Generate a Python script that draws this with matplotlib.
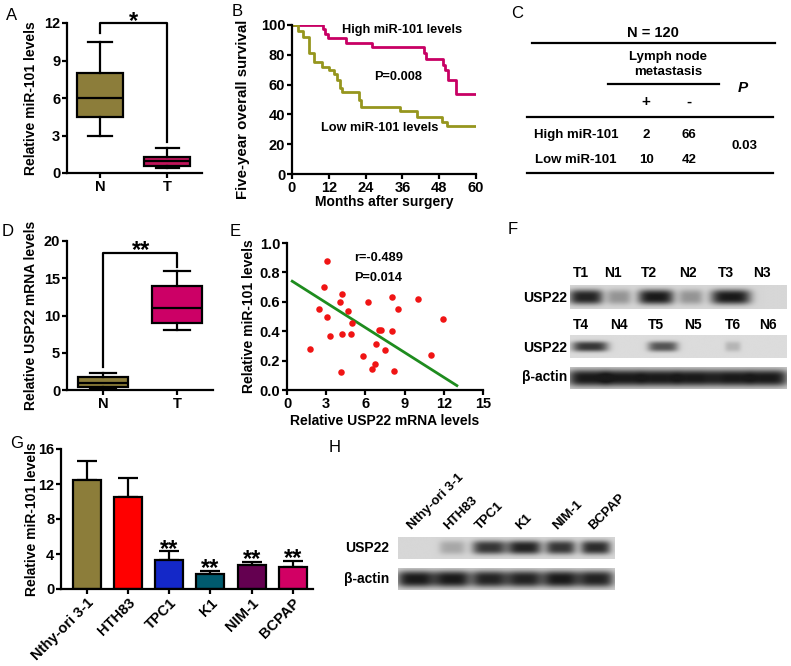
import numpy as np
import matplotlib
matplotlib.use("Agg")
import matplotlib.pyplot as plt
from matplotlib.lines import Line2D

plt.rcParams['font.family'] = ['Liberation Sans', 'DejaVu Sans']

# ---------------- data ----------------
# Panel A (box stats: whislo, q1, med, q3, whishi)
a_groups = ['N', 'T']
a_whislo = [3.0, 0.4]
a_q1 = [4.5, 0.6]
a_med = [6.0, 1.0]
a_q3 = [8.0, 1.3]
a_whishi = [10.5, 2.0]

# Panel B Kaplan-Meier steps
b_high_t = [0, 10.0, 10.8, 11.6, 17.5, 26.0, 43.0, 43.8, 49.3, 49.9, 50.9, 53.5, 60]
b_high_s = [100, 97.5, 94, 91, 88, 85.5, 81, 77, 73, 70, 63, 54, 54]
b_low_t = [0, 1.8, 3.6, 5.5, 7.3, 9.7, 12.0, 13.8, 14.6, 15.5, 16.3, 21.8, 22.4, 35.3, 40.7, 48.8, 50.4, 60]
b_low_s = [100, 96, 92, 81, 75, 72, 70, 67, 63, 58, 55, 50, 45, 42, 38, 35, 32, 32]

# Panel C table
c_rows = ['High miR-101', 'Low miR-101']
c_pos = [2, 10]
c_neg = [66, 42]
c_p = '0.03'

# Panel D
d_groups = ['N', 'T']
d_whislo = [0.15, 8.0]
d_q1 = [0.4, 9.0]
d_med = [1.0, 11.0]
d_q3 = [1.8, 14.0]
d_whishi = [2.3, 16.0]

# Panel E scatter
e_usp22 = [1.73, 2.42, 2.86, 3.06, 3.06, 3.32, 4.03, 4.23, 4.21, 4.13, 4.64, 5.0, 4.92,
           5.82, 6.22, 6.53, 6.73, 6.81, 7.02, 7.22, 7.53, 8.01, 8.01, 8.21, 8.52, 10.0, 11.0, 11.96]
e_mir = [0.28, 0.55, 0.70, 0.875, 0.50, 0.37, 0.60, 0.65, 0.38, 0.12, 0.54, 0.455, 0.38,
         0.23, 0.60, 0.14, 0.18, 0.31, 0.41, 0.41, 0.27, 0.63, 0.40, 0.13, 0.55, 0.62, 0.24, 0.48]
e_fit_x = [0.4, 13.0]
e_fit_y = [0.74, 0.03]

# Panel F blots
f_lanes1 = ['T1', 'N1', 'T2', 'N2', 'T3', 'N3']
f_int1 = [0.95, 0.35, 1.0, 0.35, 1.0, 0.0]
f_lanes2 = ['T4', 'N4', 'T5', 'N5', 'T6', 'N6']
f_int2 = [0.85, 0.0, 0.7, 0.0, 0.2, 0.0]
f_actin = [1.0, 1.0, 1.0, 1.0, 1.0, 1.0]

# Panel G bars
g_lines = ['Nthy-ori 3-1', 'HTH83', 'TPC1', 'K1', 'NIM-1', 'BCPAP']
g_vals = [12.5, 10.5, 3.3, 1.75, 2.8, 2.5]
g_err = [2.1, 2.2, 1.0, 0.35, 0.3, 0.7]
g_sig = ['', '', '**', '**', '**', '**']
g_colors = ['#8C7D3A', '#FF0000', '#1428C8', '#005A6E', '#640050', '#D20064']

# Panel H blot
h_usp22 = [0.0, 0.25, 0.85, 0.95, 0.85, 0.9]
h_actin = [1.0, 1.0, 0.95, 0.95, 1.0, 0.95]

# ---------------- layout helpers ----------------
W, H = 791, 666
fig = plt.figure(figsize=(W / 100, H / 100), dpi=100)


def rect(x0, y0, x1, y1):
    return [x0 / W, 1 - y1 / H, (x1 - x0) / W, (y1 - y0) / H]


def fx(x):
    return x / W


def fy(y):
    return 1 - y / H


def ftext(x, y, s, **kw):
    fig.text(fx(x), fy(y), s, **kw)


def fline(x0, x1, y, lw=1.6):
    fig.add_artist(Line2D([fx(x0), fx(x1)], [fy(y), fy(y)], color='black', lw=lw,
                          transform=fig.transFigure))


LAB = dict(fontsize=9.5, fontweight='bold')
AXLAB = dict(fontsize=10, fontweight='bold')
ANN = dict(fontsize=9.2, fontweight='bold')


def style(ax):
    for s in ['top', 'right']:
        ax.spines[s].set_visible(False)
    for s in ['left', 'bottom']:
        ax.spines[s].set_linewidth(1.6)
    ax.tick_params(width=1.6, length=3.4, pad=1.5, labelsize=10.5)
    for lab in ax.get_xticklabels() + ax.get_yticklabels():
        lab.set_fontweight('bold')


def panel_letter(x, y, s):
    ftext(x, y, s, fontsize=12, ha='center', va='center')


def boxes(ax, groups, whislo, q1, med, q3, whishi, colors, width):
    stats = []
    for i in range(len(groups)):
        stats.append(dict(whislo=whislo[i], q1=q1[i], med=med[i], q3=q3[i], whishi=whishi[i],
                          fliers=[], label=groups[i]))
    bp = ax.bxp(stats, positions=[1, 2], widths=width, patch_artist=True,
                boxprops=dict(linewidth=1.6), medianprops=dict(color='black', linewidth=1.6),
                whiskerprops=dict(linewidth=1.6), capprops=dict(linewidth=1.6), capwidths=width * 0.5)
    for p, c in zip(bp['boxes'], colors):
        p.set_facecolor(c)
        p.set_edgecolor('black')


# ---------------- Panel A ----------------
axA = fig.add_axes(rect(67, 23, 202, 173))
boxes(axA, a_groups, a_whislo, a_q1, a_med, a_q3, a_whishi, ['#8C7D3A', '#C0145A'], 0.69)
axA.set_xlim(0.507, 2.52)
axA.set_ylim(0, 12)
axA.set_yticks([0, 3, 6, 9, 12])
axA.set_xticks([1, 2])
axA.set_xticklabels(a_groups)
axA.set_ylabel('Relative miR-101 levels', **AXLAB)
axA.yaxis.set_label_coords(-0.215, 0.5)
style(axA)
axA.plot([1, 1, 2, 2], [11.2, 12, 12, 2.5], color='black', lw=1.6, clip_on=False)
axA.text(1.5, 11.6, '*', ha='center', va='baseline', fontsize=17, fontweight='bold')
panel_letter(12, 15, 'A')

# ---------------- Panel B ----------------
axB = fig.add_axes(rect(292, 25, 476, 174))
axB.step(b_high_t, b_high_s, where='post', color='#C80064', lw=2)
axB.step(b_low_t, b_low_s, where='post', color='#96961E', lw=2)
axB.set_xlim(0, 60)
axB.set_ylim(0, 100)
axB.set_xticks([0, 12, 24, 36, 48, 60])
axB.set_yticks([0, 20, 40, 60, 80, 100])
axB.set_xlabel('Months after surgery', **AXLAB)
axB.set_ylabel('Five-year overall survival', fontsize=10.8, fontweight='bold')
axB.yaxis.set_label_coords(-0.228, 0.436)
axB.xaxis.set_label_coords(0.5, -0.14)
style(axB)
axB.text(0.60, 0.966, 'High miR-101 levels', transform=axB.transAxes, ha='center', va='center', **ANN)
axB.text(0.576, 0.65, 'P=0.008', transform=axB.transAxes, ha='center', va='center', **ANN)
axB.text(0.478, 0.31, 'Low miR-101 levels', transform=axB.transAxes, ha='center', va='center', **ANN)
panel_letter(237, 12, 'B')

# ---------------- Panel C ----------------
panel_letter(517, 14, 'C')
ftext(653, 33, 'N = 120', ha='center', va='center', fontsize=10.5, fontweight='bold')
fline(532, 775, 43)
ftext(668, 57, 'Lymph node', ha='center', va='center', **LAB)
ftext(668, 72, 'metastasis', ha='center', va='center', **LAB)
fline(608, 719, 84)
ftext(743, 88, 'P', ha='center', va='center', fontsize=11, fontweight='bold', style='italic')
ftext(646, 102, '+', ha='center', va='center', fontsize=11, fontweight='bold')
ftext(689, 102, '-', ha='center', va='center', fontsize=11, fontweight='bold')
fline(527, 773, 117)
for i, (r, p, n) in enumerate(zip(c_rows, c_pos, c_neg)):
    yy = 135 + 25 * i
    ftext(576, yy, r, ha='center', va='center', **LAB)
    ftext(646, yy, str(p), ha='center', va='center', **LAB)
    ftext(689, yy, str(n), ha='center', va='center', **LAB)
ftext(745, 146, c_p, ha='center', va='center', **LAB)
fline(527, 773, 173)

# ---------------- Panel D ----------------
axD = fig.add_axes(rect(67, 241, 213, 390))
boxes(axD, d_groups, d_whislo, d_q1, d_med, d_q3, d_whishi, ['#8C7D3A', '#CC0066'], 0.68)
axD.set_xlim(0.514, 2.487)
axD.set_ylim(0, 20)
axD.set_yticks([0, 5, 10, 15, 20])
axD.set_xticks([1, 2])
axD.set_xticklabels(d_groups)
axD.set_ylabel('Relative USP22 mRNA levels', **AXLAB)
axD.yaxis.set_label_coords(-0.199, 0.5)
style(axD)
axD.plot([1, 1, 2, 2], [3.1, 18.4, 18.4, 16.5], color='black', lw=1.6, clip_on=False)
axD.text(1.52, 17.9, '**', ha='center', va='baseline', fontsize=17, fontweight='bold')
panel_letter(8, 232, 'D')

# ---------------- Panel E ----------------
axE = fig.add_axes(rect(287, 243, 483, 390))
axE.scatter(e_usp22, e_mir, s=22, color='#F01414', zorder=3, linewidths=0)
axE.plot(e_fit_x, e_fit_y, color='#1E8C1E', lw=2)
axE.set_xlim(0, 15)
axE.set_ylim(0, 1.0)
axE.set_xticks([0, 3, 6, 9, 12, 15])
axE.set_yticks([0, 0.2, 0.4, 0.6, 0.8, 1.0])
axE.set_yticklabels(['0.0', '0.2', '0.4', '0.6', '0.8', '1.0'])
axE.set_xlabel('Relative USP22 mRNA levels', **AXLAB)
axE.set_ylabel('Relative miR-101 levels', **AXLAB)
axE.yaxis.set_label_coords(-0.158, 0.5)
axE.xaxis.set_label_coords(0.5, -0.163)
style(axE)
axE.text(0.34, 0.90, 'r=-0.489', transform=axE.transAxes, ha='left', va='center', **ANN)
axE.text(0.34, 0.76, 'P=0.014', transform=axE.transAxes, ha='left', va='center', **ANN)
panel_letter(235, 232, 'E')


# ---------------- blot helper ----------------
def blot(x0, y0, x1, y1, centers, widths, intens, bg=0.84, band_h=0.62, dark=0.1):
    ax = fig.add_axes(rect(x0, y0, x1, y1))
    xs = np.linspace(x0, x1, 500)
    ys = np.linspace(0, 1, 80)
    X, Y = np.meshgrid(xs, ys)
    img = np.zeros_like(X)
    for c, w, v in zip(centers, widths, intens):
        img += v * np.exp(-np.abs((X - c) / (w / 2)) ** 4) * np.exp(-np.abs((Y - 0.5) / (band_h / 2)) ** 3)
    val = bg - (bg - dark) * np.clip(img, 0, 1)
    ax.imshow(val, cmap='gray', vmin=0, vmax=1, extent=[x0, x1, 1, 0], aspect='auto',
              interpolation='bilinear')
    ax.set_axis_off()
    return ax


# ---------------- Panel F ----------------
panel_letter(513, 230, 'F')
f_c1 = [586, 619, 656, 691, 731, 765]
f_w1 = [34, 24, 36, 24, 40, 30]
for lab, c in zip(f_lanes1, [581, 613, 649, 688, 726, 762]):
    ftext(c, 273, lab, ha='center', va='center', fontsize=10, fontweight='bold')
blot(570, 285, 787, 309, f_c1, f_w1, f_int1, bg=0.84)
ftext(545, 298, 'USP22', ha='center', va='center', fontsize=10, fontweight='bold')
for lab, c in zip(f_lanes2, [581, 619, 656, 693, 733, 768]):
    ftext(c, 325, lab, ha='center', va='center', fontsize=10, fontweight='bold')
blot(570, 335, 787, 358, [590, 622, 663, 697, 733, 768], [36, 20, 30, 20, 16, 20], f_int2,
     bg=0.86, band_h=0.45)
ftext(545, 348, 'USP22', ha='center', va='center', fontsize=10, fontweight='bold')
blot(570, 367, 787, 389, [588, 623, 659, 695, 732, 768], [40, 40, 40, 40, 40, 40], f_actin,
     bg=0.80, band_h=0.75)
ftext(545, 377, 'β-actin', ha='center', va='center', fontsize=10, fontweight='bold')

# ---------------- Panel G ----------------
axG = fig.add_axes(rect(61, 449, 313, 589))
xpos = np.arange(len(g_lines))
axG.bar(xpos, g_vals, width=0.68, color=g_colors, edgecolor='black', linewidth=1.6, zorder=2)
axG.errorbar(xpos, g_vals, yerr=[np.zeros(len(g_err)), g_err], fmt='none', ecolor='black',
             elinewidth=1.6, capsize=7, capthick=1.6, zorder=1)
for x, v, e, s in zip(xpos, g_vals, g_err, g_sig):
    if s:
        axG.text(x, v + e - 0.5, s, ha='center', va='baseline', fontsize=17, fontweight='bold')
axG.set_xlim(-0.63, 5.49)
axG.set_ylim(0, 16)
axG.set_yticks([0, 4, 8, 12, 16])
axG.set_xticks(xpos)
axG.set_xticklabels(g_lines, rotation=45, ha='right', rotation_mode='anchor')
axG.set_ylabel('Relative miR-101 levels', **AXLAB)
axG.yaxis.set_label_coords(-0.087, 0.5)
style(axG)
panel_letter(17, 443, 'G')

# ---------------- Panel H ----------------
panel_letter(335, 448, 'H')
h_c = [416, 452, 489, 524, 560, 595]
for lab, c in zip(g_lines, [412, 448, 480, 520, 557, 593]):
    fig.text(fx(c), fy(530), lab, rotation=45, rotation_mode='anchor', ha='left', va='baseline', **LAB)
blot(398, 537, 614, 559, h_c, [36, 26, 34, 34, 30, 30], h_usp22, bg=0.84, band_h=0.6)
ftext(367, 548, 'USP22', ha='center', va='center', fontsize=10, fontweight='bold')
blot(398, 568, 614, 590, h_c, [38, 36, 36, 36, 36, 36], h_actin, bg=0.82, band_h=0.75)
ftext(367, 579, 'β-actin', ha='center', va='center', fontsize=10, fontweight='bold')

fig.savefig('out.png', dpi=100)
